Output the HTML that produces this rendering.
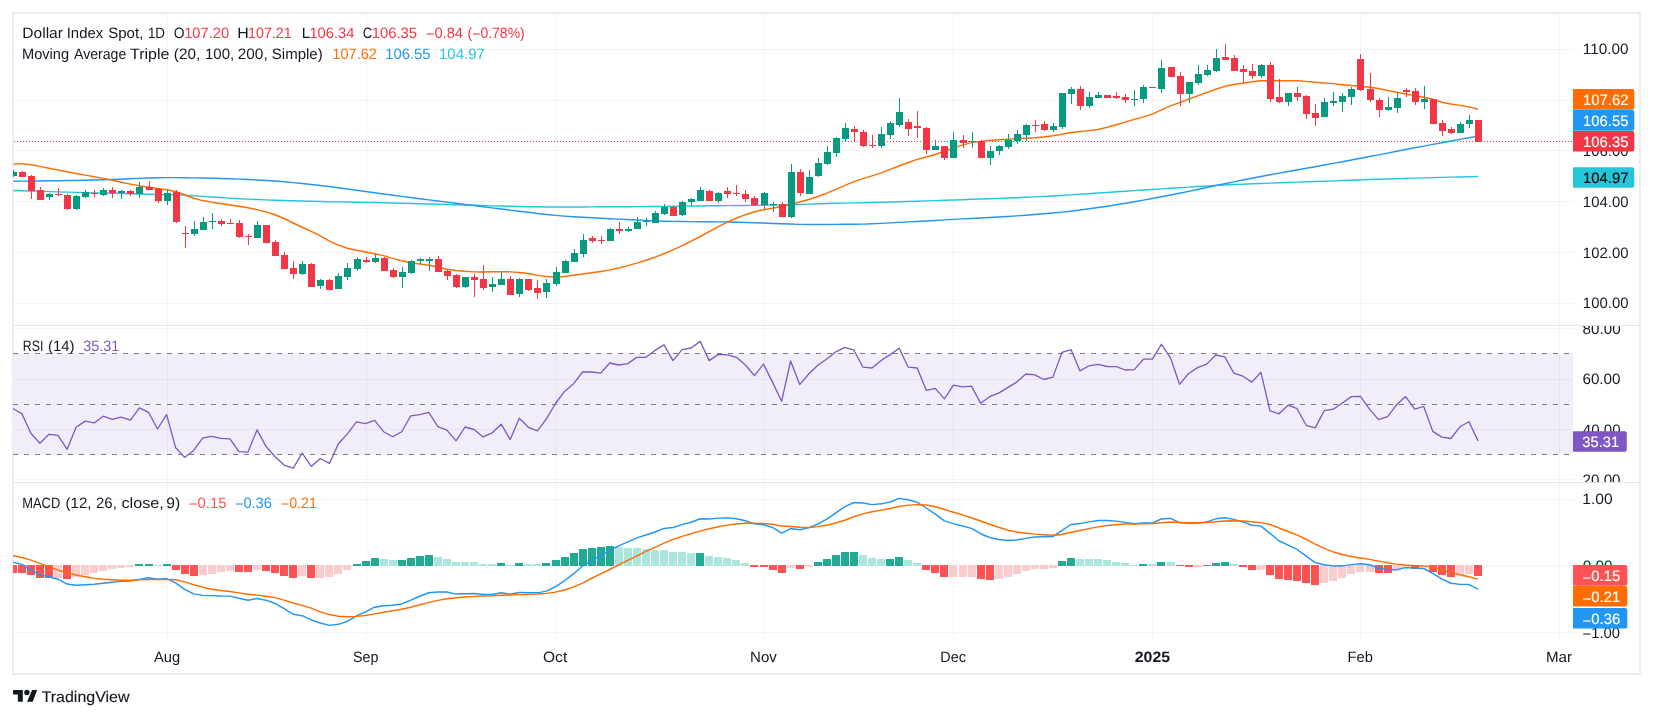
<!DOCTYPE html>
<html><head><meta charset="utf-8"><title>Dollar Index Spot</title>
<style>html,body{margin:0;padding:0;background:#fff}body{width:1653px;height:718px;position:relative;overflow:hidden;font-family:"Liberation Sans",sans-serif}</style></head>
<body>
<svg width="1653" height="718" viewBox="0 0 1653 718" style="position:absolute;left:0;top:0;font-family:'Liberation Sans',sans-serif">
<rect x="0" y="0" width="1653" height="718" fill="#fff"/>
<rect x="13" y="13" width="1627" height="661" fill="none" stroke="#ebedf3" stroke-width="2"/>
<defs><clipPath id="cp"><rect x="13" y="14" width="1560" height="625"/></clipPath><clipPath id="ax1"><rect x="1573" y="14" width="66" height="311"/></clipPath><clipPath id="ax2"><rect x="1573" y="326" width="66" height="156"/></clipPath><clipPath id="ax3"><rect x="1573" y="483" width="66" height="156"/></clipPath></defs>
<rect x="14" y="353.5" width="1559" height="101" fill="rgba(126,87,194,0.1)"/>
<path d="M14 49.5H1573 M14 100.5H1573 M14 150.5H1573 M14 201.5H1573 M14 252.5H1573 M14 303.5H1573 M14 328.5H1573 M14 379.5H1573 M14 429.5H1573 M14 479.5H1573 M14 499.5H1573 M14 565.5H1573 M14 632.5H1573" stroke="rgba(42,46,57,0.055)" stroke-width="1" fill="none" shape-rendering="crispEdges"/>
<path d="M167.5 14V639 M366.5 14V639 M556.5 14V639 M764.5 14V639 M953.5 14V639 M1152.5 14V639 M1360.5 14V639 M1559.5 14V639" stroke="rgba(42,46,57,0.055)" stroke-width="1" fill="none" shape-rendering="crispEdges"/>
<path d="M14 325.5H1639M14 482.5H1639" stroke="#e0e3eb" stroke-width="1" fill="none" shape-rendering="crispEdges"/>
<path d="M13 353.5H1573M13 404.5H1573M13 454.5H1573" stroke="#787B86" stroke-width="1" stroke-dasharray="5 6" fill="none" shape-rendering="crispEdges"/>
<g clip-path="url(#cp)">
<path d="M13.6 190.50 L21.8 190.77 L30.9 191.06 L39.9 191.34 L49.0 191.61 L58.0 191.88 L67.1 192.14 L76.1 192.39 L85.2 192.62 L94.2 192.86 L103.2 193.09 L112.3 193.33 L121.3 193.57 L130.4 193.82 L139.4 194.06 L148.5 194.28 L157.5 194.47 L166.6 194.64 L175.6 194.85 L184.6 195.24 L193.7 195.80 L202.7 196.37 L211.8 196.95 L220.8 197.56 L229.9 198.15 L238.9 198.69 L248.0 199.14 L257.0 199.53 L266.0 199.88 L275.1 200.20 L284.1 200.50 L293.2 200.77 L302.2 201.03 L311.3 201.26 L320.3 201.48 L329.4 201.69 L338.4 201.88 L347.4 202.06 L356.5 202.21 L365.5 202.38 L374.6 202.58 L383.6 202.78 L392.7 203.00 L401.7 203.22 L410.8 203.46 L419.8 203.70 L428.8 203.94 L437.9 204.19 L446.9 204.44 L456.0 204.72 L465.0 205.01 L474.1 205.31 L483.1 205.59 L492.2 205.85 L501.2 206.07 L510.2 206.27 L519.3 206.47 L528.3 206.67 L537.4 206.83 L546.4 206.95 L555.5 207.00 L564.5 206.99 L573.6 206.97 L582.6 206.93 L591.6 206.89 L600.7 206.84 L609.7 206.79 L618.8 206.74 L627.8 206.68 L636.9 206.61 L645.9 206.53 L655.0 206.45 L664.0 206.36 L673.0 206.26 L682.1 206.15 L691.1 206.04 L700.2 205.93 L709.2 205.82 L718.3 205.71 L727.3 205.61 L736.4 205.52 L745.4 205.44 L754.4 205.35 L763.5 205.24 L772.5 205.12 L781.6 204.97 L790.6 204.74 L799.7 204.44 L808.7 204.12 L817.8 203.82 L826.8 203.57 L835.8 203.34 L844.9 203.11 L853.9 202.89 L863.0 202.67 L872.0 202.43 L881.1 202.19 L890.1 201.94 L899.2 201.69 L908.2 201.43 L917.2 201.16 L926.3 200.89 L935.3 200.61 L944.4 200.31 L953.4 200.00 L962.5 199.67 L971.5 199.34 L980.6 199.01 L989.6 198.68 L998.6 198.35 L1007.7 198.01 L1016.7 197.66 L1025.8 197.29 L1034.8 196.89 L1043.9 196.47 L1052.9 196.00 L1062.0 195.47 L1071.0 194.89 L1080.0 194.29 L1089.1 193.66 L1098.1 193.03 L1107.2 192.41 L1116.2 191.80 L1125.3 191.22 L1134.3 190.63 L1143.4 190.04 L1152.4 189.45 L1161.4 188.86 L1170.5 188.27 L1179.5 187.69 L1188.6 187.12 L1197.6 186.53 L1206.7 185.94 L1215.7 185.40 L1224.8 184.94 L1233.8 184.54 L1242.8 184.17 L1251.9 183.82 L1260.9 183.48 L1270.0 183.13 L1279.0 182.80 L1288.1 182.47 L1297.1 182.15 L1306.2 181.83 L1315.2 181.51 L1324.2 181.20 L1333.3 180.88 L1342.3 180.56 L1351.4 180.24 L1360.4 179.91 L1369.5 179.58 L1378.5 179.26 L1387.6 178.95 L1396.6 178.66 L1405.6 178.38 L1414.7 178.11 L1423.7 177.86 L1432.8 177.61 L1441.8 177.37 L1450.9 177.14 L1459.9 176.92 L1469.0 176.71 L1478.0 176.51" stroke="#26C6DA" stroke-width="1.45" fill="none" stroke-linejoin="round" stroke-linecap="butt"/>
<path d="M13.6 181.20 L21.8 181.14 L30.9 181.06 L39.9 180.96 L49.0 180.84 L58.0 180.71 L67.1 180.58 L76.1 180.43 L85.2 180.25 L94.2 180.05 L103.2 179.82 L112.3 179.55 L121.3 179.17 L130.4 178.75 L139.4 178.35 L148.5 178.02 L157.5 177.76 L166.6 177.60 L175.6 177.63 L184.6 177.74 L193.7 177.89 L202.7 178.05 L211.8 178.25 L220.8 178.50 L229.9 178.79 L238.9 179.13 L248.0 179.51 L257.0 179.93 L266.0 180.41 L275.1 181.04 L284.1 181.79 L293.2 182.65 L302.2 183.57 L311.3 184.54 L320.3 185.53 L329.4 186.57 L338.4 187.74 L347.4 188.98 L356.5 190.24 L365.5 191.48 L374.6 192.70 L383.6 193.93 L392.7 195.16 L401.7 196.38 L410.8 197.58 L419.8 198.74 L428.8 199.88 L437.9 201.00 L446.9 202.12 L456.0 203.26 L465.0 204.42 L474.1 205.59 L483.1 206.76 L492.2 207.90 L501.2 209.02 L510.2 210.12 L519.3 211.20 L528.3 212.32 L537.4 213.44 L546.4 214.48 L555.5 215.38 L564.5 216.10 L573.6 216.73 L582.6 217.30 L591.6 217.81 L600.7 218.29 L609.7 218.72 L618.8 219.12 L627.8 219.51 L636.9 219.92 L645.9 220.39 L655.0 220.88 L664.0 221.21 L673.0 221.38 L682.1 221.50 L691.1 221.60 L700.2 221.70 L709.2 221.79 L718.3 221.89 L727.3 222.03 L736.4 222.23 L745.4 222.45 L754.4 222.73 L763.5 223.08 L772.5 223.44 L781.6 223.75 L790.6 224.08 L799.7 224.37 L808.7 224.50 L817.8 224.49 L826.8 224.45 L835.8 224.40 L844.9 224.32 L853.9 224.24 L863.0 224.10 L872.0 223.80 L881.1 223.38 L890.1 222.89 L899.2 222.38 L908.2 221.90 L917.2 221.43 L926.3 220.93 L935.3 220.41 L944.4 219.89 L953.4 219.39 L962.5 218.90 L971.5 218.44 L980.6 217.99 L989.6 217.52 L998.6 217.02 L1007.7 216.48 L1016.7 215.88 L1025.8 215.24 L1034.8 214.55 L1043.9 213.81 L1052.9 213.00 L1062.0 212.14 L1071.0 211.16 L1080.0 210.03 L1089.1 208.80 L1098.1 207.51 L1107.2 206.17 L1116.2 204.76 L1125.3 203.27 L1134.3 201.73 L1143.4 200.14 L1152.4 198.51 L1161.4 196.83 L1170.5 195.06 L1179.5 193.23 L1188.6 191.38 L1197.6 189.48 L1206.7 187.52 L1215.7 185.57 L1224.8 183.70 L1233.8 181.85 L1242.8 180.03 L1251.9 178.24 L1260.9 176.49 L1270.0 174.80 L1279.0 173.15 L1288.1 171.54 L1297.1 169.94 L1306.2 168.33 L1315.2 166.70 L1324.2 165.04 L1333.3 163.36 L1342.3 161.68 L1351.4 159.98 L1360.4 158.28 L1369.5 156.56 L1378.5 154.84 L1387.6 153.09 L1396.6 151.33 L1405.6 149.56 L1414.7 147.81 L1423.7 146.09 L1432.8 144.38 L1441.8 142.70 L1450.9 141.02 L1459.9 139.37 L1469.0 137.72 L1478.0 136.09" stroke="#2196F3" stroke-width="1.45" fill="none" stroke-linejoin="round" stroke-linecap="butt"/>
<path d="M13.6 164.30 L21.8 163.61 L30.9 164.79 L39.9 166.38 L49.0 168.24 L58.0 170.00 L67.1 171.73 L76.1 173.45 L85.2 175.12 L94.2 176.73 L103.2 178.38 L112.3 180.19 L121.3 182.20 L130.4 184.16 L139.4 185.81 L148.5 187.23 L157.5 188.56 L166.6 189.82 L175.6 191.44 L184.6 194.71 L193.7 198.25 L202.7 200.58 L211.8 202.16 L220.8 203.50 L229.9 204.92 L238.9 206.33 L248.0 207.80 L257.0 209.59 L266.0 211.90 L275.1 214.77 L284.1 218.49 L293.2 223.00 L302.2 227.26 L311.3 231.36 L320.3 235.82 L329.4 241.05 L338.4 245.09 L347.4 248.21 L356.5 250.29 L365.5 251.97 L374.6 253.67 L383.6 255.64 L392.7 258.35 L401.7 260.77 L410.8 262.67 L419.8 263.97 L428.8 265.21 L437.9 267.03 L446.9 269.26 L456.0 270.53 L465.0 271.34 L474.1 271.87 L483.1 271.98 L492.2 271.77 L501.2 271.60 L510.2 271.85 L519.3 272.46 L528.3 273.54 L537.4 275.35 L546.4 276.50 L555.5 277.09 L564.5 276.43 L573.6 275.20 L582.6 274.03 L591.6 272.76 L600.7 271.44 L609.7 269.90 L618.8 267.94 L627.8 265.63 L636.9 263.10 L645.9 260.29 L655.0 257.19 L664.0 253.72 L673.0 249.81 L682.1 245.64 L691.1 241.23 L700.2 236.50 L709.2 231.69 L718.3 226.66 L727.3 222.08 L736.4 218.21 L745.4 214.69 L754.4 211.71 L763.5 209.82 L772.5 208.22 L781.6 206.57 L790.6 204.42 L799.7 202.02 L808.7 199.44 L817.8 196.55 L826.8 193.17 L835.8 189.40 L844.9 185.42 L853.9 181.58 L863.0 178.61 L872.0 175.91 L881.1 172.85 L890.1 169.43 L899.2 166.00 L908.2 162.53 L917.2 159.41 L926.3 156.95 L935.3 154.45 L944.4 151.28 L953.4 148.00 L962.5 145.11 L971.5 142.64 L980.6 141.35 L989.6 140.46 L998.6 139.78 L1007.7 139.17 L1016.7 138.65 L1025.8 138.23 L1034.8 137.73 L1043.9 136.92 L1052.9 135.69 L1062.0 134.21 L1071.0 132.53 L1080.0 131.50 L1089.1 130.64 L1098.1 129.42 L1107.2 127.28 L1116.2 124.74 L1125.3 122.10 L1134.3 119.35 L1143.4 116.85 L1152.4 114.11 L1161.4 109.83 L1170.5 105.81 L1179.5 102.57 L1188.6 99.28 L1197.6 95.90 L1206.7 92.57 L1215.7 89.30 L1224.8 86.33 L1233.8 84.55 L1242.8 83.28 L1251.9 81.67 L1260.9 80.70 L1270.0 80.70 L1279.0 80.70 L1288.1 80.70 L1297.1 80.71 L1306.2 81.35 L1315.2 82.28 L1324.2 82.94 L1333.3 83.64 L1342.3 84.70 L1351.4 85.57 L1360.4 86.24 L1369.5 87.18 L1378.5 88.57 L1387.6 90.46 L1396.6 92.28 L1405.6 94.07 L1414.7 95.63 L1423.7 97.23 L1432.8 99.19 L1441.8 102.20 L1450.9 103.96 L1459.9 105.36 L1469.0 106.90 L1478.0 109.25" stroke="#FF6D00" stroke-width="1.45" fill="none" stroke-linejoin="round" stroke-linecap="butt"/>
<path d="M13 170h1V177h-1Z M10 172h7V176h-7Z M49 193h1V200h-1Z M46 194h7V197h-7Z M76 195h1V210h-1Z M73 196h7V209h-7Z M85 190h1V198h-1Z M82 192h7V197h-7Z M103 188h1V196h-1Z M100 190h7V195h-7Z M121 190h1V199h-1Z M118 191h7V193h-7Z M139 182h1V198h-1Z M136 187h7V194h-7Z M167 190h1V205h-1Z M164 193h7V201h-7Z M194 221h1V236h-1Z M191 229h7V234h-7Z M203 217h1V230h-1Z M200 222h7V230h-7Z M212 213h1V229h-1Z M209 221h7V222h-7Z M257 221h1V238h-1Z M254 225h7V238h-7Z M302 261h1V275h-1Z M299 264h7V274h-7Z M320 279h1V289h-1Z M317 280h7V286h-7Z M338 273h1V289h-1Z M335 276h7V289h-7Z M347 263h1V280h-1Z M344 268h7V277h-7Z M357 257h1V271h-1Z M354 259h7V269h-7Z M375 254h1V263h-1Z M372 258h7V262h-7Z M402 267h1V288h-1Z M399 272h7V277h-7Z M411 260h1V274h-1Z M408 261h7V273h-7Z M420 258h1V264h-1Z M417 259h7V261h-7Z M429 257h1V271h-1Z M426 259h7V261h-7Z M465 277h1V288h-1Z M462 277h7V287h-7Z M492 277h1V292h-1Z M489 284h7V287h-7Z M501 272h1V285h-1Z M498 279h7V285h-7Z M519 278h1V297h-1Z M516 279h7V294h-7Z M546 279h1V298h-1Z M543 283h7V292h-7Z M556 267h1V286h-1Z M553 272h7V284h-7Z M565 260h1V273h-1Z M562 261h7V273h-7Z M574 249h1V262h-1Z M571 253h7V262h-7Z M583 234h1V257h-1Z M580 240h7V254h-7Z M610 228h1V241h-1Z M607 229h7V241h-7Z M628 227h1V232h-1Z M625 229h7V231h-7Z M637 217h1V229h-1Z M634 222h7V229h-7Z M646 218h1V226h-1Z M643 221h7V222h-7Z M655 211h1V223h-1Z M652 213h7V223h-7Z M664 204h1V215h-1Z M661 207h7V214h-7Z M682 201h1V216h-1Z M679 202h7V215h-7Z M691 198h1V206h-1Z M688 199h7V202h-7Z M700 187h1V201h-1Z M697 190h7V201h-7Z M718 192h1V203h-1Z M715 193h7V201h-7Z M764 192h1V209h-1Z M761 193h7V205h-7Z M773 202h1V212h-1Z M770 204h7V205h-7Z M791 164h1V218h-1Z M788 172h7V217h-7Z M809 170h1V194h-1Z M806 177h7V194h-7Z M818 158h1V177h-1Z M815 163h7V176h-7Z M827 146h1V165h-1Z M824 152h7V164h-7Z M836 137h1V157h-1Z M833 138h7V153h-7Z M845 123h1V141h-1Z M842 128h7V139h-7Z M881 127h1V148h-1Z M878 134h7V146h-7Z M890 121h1V139h-1Z M887 123h7V135h-7Z M899 98h1V127h-1Z M896 112h7V125h-7Z M935 140h1V150h-1Z M932 146h7V150h-7Z M953 132h1V158h-1Z M950 140h7V158h-7Z M972 132h1V148h-1Z M969 141h7V142h-7Z M990 146h1V165h-1Z M987 151h7V158h-7Z M999 145h1V155h-1Z M996 146h7V151h-7Z M1008 134h1V149h-1Z M1005 140h7V147h-7Z M1017 130h1V144h-1Z M1014 134h7V141h-7Z M1026 124h1V141h-1Z M1023 125h7V135h-7Z M1053 123h1V132h-1Z M1050 126h7V130h-7Z M1062 93h1V129h-1Z M1059 93h7V127h-7Z M1071 87h1V104h-1Z M1068 89h7V94h-7Z M1089 92h1V108h-1Z M1086 97h7V106h-7Z M1098 92h1V98h-1Z M1095 95h7V98h-7Z M1134 90h1V106h-1Z M1131 99h7V100h-7Z M1143 85h1V103h-1Z M1140 87h7V99h-7Z M1161 60h1V93h-1Z M1158 68h7V89h-7Z M1189 82h1V103h-1Z M1186 82h7V94h-7Z M1198 65h1V85h-1Z M1195 74h7V83h-7Z M1207 65h1V76h-1Z M1204 70h7V75h-7Z M1216 49h1V72h-1Z M1213 58h7V71h-7Z M1261 64h1V78h-1Z M1258 65h7V76h-7Z M1288 93h1V106h-1Z M1285 93h7V102h-7Z M1324 98h1V117h-1Z M1321 102h7V117h-7Z M1333 92h1V106h-1Z M1330 101h7V103h-7Z M1342 93h1V112h-1Z M1339 96h7V102h-7Z M1351 87h1V105h-1Z M1348 89h7V97h-7Z M1388 97h1V111h-1Z M1385 107h7V110h-7Z M1397 92h1V113h-1Z M1394 98h7V108h-7Z M1424 86h1V109h-1Z M1421 99h7V102h-7Z M1460 122h1V133h-1Z M1457 124h7V133h-7Z M1469 115h1V128h-1Z M1466 120h7V124h-7Z" fill="#089981" shape-rendering="crispEdges"/>
<path d="M22 171h1V177h-1Z M19 172h7V177h-7Z M31 175h1V199h-1Z M28 176h7V191h-7Z M40 187h1V200h-1Z M37 190h7V200h-7Z M58 188h1V196h-1Z M55 194h7V195h-7Z M67 194h1V210h-1Z M64 195h7V209h-7Z M94 190h1V197h-1Z M91 193h7V194h-7Z M112 187h1V198h-1Z M109 190h7V193h-7Z M130 190h1V196h-1Z M127 191h7V194h-7Z M149 181h1V190h-1Z M146 187h7V190h-7Z M158 188h1V203h-1Z M155 189h7V201h-7Z M176 190h1V223h-1Z M173 192h7V222h-7Z M185 226h1V248h-1Z M182 233h7V234h-7Z M221 219h1V226h-1Z M218 221h7V224h-7Z M230 219h1V224h-1Z M227 223h7V224h-7Z M239 220h1V238h-1Z M236 223h7V237h-7Z M248 234h1V245h-1Z M245 236h7V237h-7Z M266 225h1V243h-1Z M263 225h7V243h-7Z M275 240h1V256h-1Z M272 242h7V256h-7Z M284 252h1V269h-1Z M281 255h7V269h-7Z M293 261h1V279h-1Z M290 268h7V274h-7Z M311 263h1V287h-1Z M308 264h7V287h-7Z M329 279h1V290h-1Z M326 280h7V290h-7Z M366 257h1V263h-1Z M363 260h7V262h-7Z M384 257h1V271h-1Z M381 258h7V271h-7Z M393 268h1V278h-1Z M390 270h7V277h-7Z M438 256h1V272h-1Z M435 259h7V272h-7Z M447 270h1V280h-1Z M444 271h7V276h-7Z M456 274h1V288h-1Z M453 275h7V287h-7Z M474 274h1V297h-1Z M471 277h7V280h-7Z M483 265h1V290h-1Z M480 279h7V288h-7Z M510 276h1V295h-1Z M507 279h7V295h-7Z M528 279h1V291h-1Z M525 279h7V290h-7Z M537 280h1V299h-1Z M534 288h7V293h-7Z M592 236h1V243h-1Z M589 238h7V241h-7Z M601 236h1V244h-1Z M598 240h7V241h-7Z M619 222h1V234h-1Z M616 229h7V231h-7Z M673 206h1V216h-1Z M670 207h7V216h-7Z M709 190h1V201h-1Z M706 191h7V201h-7Z M727 187h1V198h-1Z M724 191h7V194h-7Z M736 185h1V196h-1Z M733 193h7V194h-7Z M745 190h1V202h-1Z M742 194h7V199h-7Z M754 196h1V206h-1Z M751 198h7V205h-7Z M782 202h1V217h-1Z M779 204h7V217h-7Z M800 169h1V196h-1Z M797 172h7V193h-7Z M854 126h1V142h-1Z M851 129h7V132h-7Z M863 130h1V147h-1Z M860 132h7V146h-7Z M872 135h1V148h-1Z M869 145h7V146h-7Z M908 119h1V136h-1Z M905 122h7V129h-7Z M917 111h1V138h-1Z M914 126h7V128h-7Z M926 127h1V154h-1Z M923 128h7V150h-7Z M944 146h1V160h-1Z M941 146h7V158h-7Z M963 135h1V148h-1Z M960 140h7V143h-7Z M981 140h1V158h-1Z M978 141h7V158h-7Z M1035 120h1V132h-1Z M1032 125h7V126h-7Z M1044 121h1V131h-1Z M1041 124h7V130h-7Z M1080 86h1V110h-1Z M1077 89h7V106h-7Z M1107 95h1V98h-1Z M1104 95h7V98h-7Z M1116 92h1V99h-1Z M1113 96h7V98h-7Z M1125 94h1V103h-1Z M1122 97h7V100h-7Z M1152 87h1V88h-1Z M1149 87h7V88h-7Z M1171 67h1V77h-1Z M1168 67h7V77h-7Z M1180 72h1V106h-1Z M1177 76h7V94h-7Z M1225 44h1V60h-1Z M1222 57h7V60h-7Z M1234 55h1V71h-1Z M1231 58h7V71h-7Z M1243 65h1V83h-1Z M1240 69h7V72h-7Z M1252 64h1V79h-1Z M1249 71h7V76h-7Z M1270 62h1V102h-1Z M1267 65h7V99h-7Z M1279 79h1V103h-1Z M1276 97h7V102h-7Z M1297 87h1V101h-1Z M1294 93h7V97h-7Z M1306 95h1V119h-1Z M1303 96h7V114h-7Z M1315 104h1V126h-1Z M1312 113h7V118h-7Z M1360 54h1V91h-1Z M1357 59h7V90h-7Z M1370 73h1V102h-1Z M1367 89h7V100h-7Z M1379 98h1V117h-1Z M1376 100h7V110h-7Z M1406 88h1V97h-1Z M1403 90h7V92h-7Z M1415 88h1V105h-1Z M1412 91h7V102h-7Z M1433 99h1V124h-1Z M1430 99h7V124h-7Z M1442 120h1V136h-1Z M1439 123h7V131h-7Z M1451 127h1V134h-1Z M1448 129h7V133h-7Z M1478 120h1V142h-1Z M1475 120h7V142h-7Z" fill="#F23645" shape-rendering="crispEdges"/>
<path d="M14 141.5H1573" stroke="#F23645" stroke-width="1" stroke-dasharray="1 2" fill="none" shape-rendering="crispEdges"/>
<path d="M12.8 408.50 L21.8 413.60 L30.9 433.20 L39.9 443.30 L49.0 434.30 L58.0 435.40 L67.1 449.30 L76.1 427.30 L85.2 421.10 L94.2 422.90 L103.2 416.20 L112.3 419.30 L121.3 417.10 L130.4 420.20 L139.4 407.90 L148.5 412.30 L157.5 429.00 L166.6 414.70 L175.6 447.70 L184.6 457.40 L193.7 450.40 L202.7 437.80 L211.8 436.30 L220.8 438.30 L229.9 438.90 L238.9 451.70 L248.0 452.10 L257.0 429.90 L266.0 446.40 L275.1 456.80 L284.1 465.10 L293.2 468.20 L302.2 453.20 L311.3 466.40 L320.3 458.50 L329.4 463.40 L338.4 443.80 L347.4 433.90 L356.5 421.80 L365.5 423.70 L374.6 420.40 L383.6 431.70 L392.7 436.70 L401.7 431.70 L410.8 415.80 L419.8 414.70 L428.8 412.30 L437.9 426.60 L446.9 430.10 L456.0 440.90 L465.0 427.00 L474.1 429.50 L483.1 436.90 L492.2 432.80 L501.2 424.20 L510.2 439.60 L519.3 418.20 L528.3 427.30 L537.4 430.80 L546.4 418.90 L555.5 403.50 L564.5 391.40 L573.6 383.70 L582.6 372.00 L591.6 372.00 L600.7 373.10 L609.7 363.00 L618.8 365.00 L627.8 363.60 L636.9 357.30 L645.9 357.30 L655.0 350.40 L664.0 344.90 L673.0 360.60 L682.1 349.60 L691.1 348.00 L700.2 341.40 L709.2 360.60 L718.3 354.40 L727.3 354.80 L736.4 357.30 L745.4 365.00 L754.4 375.70 L763.5 364.10 L772.5 382.10 L781.6 401.30 L790.6 361.00 L799.7 384.60 L808.7 374.00 L817.8 365.20 L826.8 359.00 L835.8 351.80 L844.9 347.40 L853.9 350.20 L863.0 367.20 L872.0 368.00 L881.1 360.50 L890.1 354.60 L899.2 348.20 L908.2 367.20 L917.2 368.00 L926.3 390.30 L935.3 388.30 L944.4 398.90 L953.4 385.20 L962.5 386.80 L971.5 386.10 L980.6 403.30 L989.6 396.70 L998.6 393.10 L1007.7 387.60 L1016.7 382.10 L1025.8 374.00 L1034.8 374.90 L1043.9 379.50 L1052.9 377.10 L1062.0 352.40 L1071.0 349.60 L1080.0 370.90 L1089.1 365.80 L1098.1 364.30 L1107.2 366.50 L1116.2 366.70 L1125.3 370.00 L1134.3 369.60 L1143.4 359.20 L1152.4 359.20 L1161.4 344.30 L1170.5 357.80 L1179.5 384.30 L1188.6 373.50 L1197.6 367.60 L1206.7 364.10 L1215.7 355.00 L1224.8 356.80 L1233.8 373.10 L1242.8 376.20 L1251.9 382.10 L1260.9 372.20 L1270.0 410.90 L1279.0 413.80 L1288.1 405.20 L1297.1 408.70 L1306.2 425.30 L1315.2 427.90 L1324.2 410.70 L1333.3 409.20 L1342.3 403.00 L1351.4 396.60 L1360.4 396.40 L1369.5 409.20 L1378.5 419.70 L1387.6 416.70 L1396.6 404.80 L1405.6 396.60 L1414.7 409.20 L1423.7 406.50 L1432.8 431.40 L1441.8 437.10 L1450.9 438.50 L1459.9 426.80 L1469.0 421.70 L1478.0 440.90" stroke="#7E57C2" stroke-width="1.3" fill="none" stroke-linejoin="round"/>
<path d="M135 564h8V566h-8Z M145 564h8V566h-8Z M163 564h8V566h-8Z M353 564h8V566h-8Z M362 561h8V566h-8Z M371 558h8V566h-8Z M398 560h8V566h-8Z M407 558h8V566h-8Z M416 556h8V566h-8Z M425 555h8V566h-8Z M497 563h8V566h-8Z M515 563h8V566h-8Z M542 563h8V566h-8Z M552 560h8V566h-8Z M561 557h8V566h-8Z M570 553h8V566h-8Z M579 549h8V566h-8Z M588 548h8V566h-8Z M597 547h8V566h-8Z M606 546h8V566h-8Z M696 553h8V566h-8Z M814 562h8V566h-8Z M823 559h8V566h-8Z M832 555h8V566h-8Z M841 552h8V566h-8Z M850 552h8V566h-8Z M886 559h8V566h-8Z M895 557h8V566h-8Z M1058 561h8V566h-8Z M1067 558h8V566h-8Z M1139 564h8V566h-8Z M1157 562h8V566h-8Z M1203 565h8V566h-8Z M1212 563h8V566h-8Z M1221 562h8V566h-8Z" fill="#22AB94" shape-rendering="crispEdges"/>
<path d="M154 565h8V566h-8Z M380 559h8V566h-8Z M389 560h8V566h-8Z M434 557h8V566h-8Z M443 559h8V566h-8Z M452 562h8V566h-8Z M461 562h8V566h-8Z M470 562h8V566h-8Z M479 564h8V566h-8Z M488 564h8V566h-8Z M506 565h8V566h-8Z M524 564h8V566h-8Z M533 564h8V566h-8Z M615 547h8V566h-8Z M624 548h8V566h-8Z M633 548h8V566h-8Z M642 549h8V566h-8Z M651 550h8V566h-8Z M660 550h8V566h-8Z M669 552h8V566h-8Z M678 552h8V566h-8Z M687 553h8V566h-8Z M705 556h8V566h-8Z M714 557h8V566h-8Z M723 558h8V566h-8Z M732 560h8V566h-8Z M741 563h8V566h-8Z M859 555h8V566h-8Z M868 558h8V566h-8Z M877 559h8V566h-8Z M904 560h8V566h-8Z M913 563h8V566h-8Z M1076 559h8V566h-8Z M1085 559h8V566h-8Z M1094 559h8V566h-8Z M1103 560h8V566h-8Z M1112 562h8V566h-8Z M1121 563h8V566h-8Z M1130 565h8V566h-8Z M1148 564h8V566h-8Z M1167 562h8V566h-8Z M1230 564h8V566h-8Z" fill="#ACE5DC" shape-rendering="crispEdges"/>
<path d="M54 565h8V578h-8Z M72 565h8V577h-8Z M81 565h8V575h-8Z M90 565h8V573h-8Z M99 565h8V571h-8Z M108 565h8V569h-8Z M117 565h8V568h-8Z M126 565h8V567h-8Z M199 565h8V575h-8Z M208 565h8V574h-8Z M217 565h8V572h-8Z M226 565h8V571h-8Z M253 565h8V570h-8Z M298 565h8V576h-8Z M316 565h8V578h-8Z M325 565h8V577h-8Z M334 565h8V574h-8Z M343 565h8V570h-8Z M787 565h8V568h-8Z M805 565h8V567h-8Z M949 565h8V577h-8Z M959 565h8V577h-8Z M968 565h8V577h-8Z M995 565h8V579h-8Z M1004 565h8V577h-8Z M1013 565h8V574h-8Z M1022 565h8V571h-8Z M1031 565h8V569h-8Z M1040 565h8V569h-8Z M1049 565h8V568h-8Z M1194 565h8V567h-8Z M1257 565h8V570h-8Z M1320 565h8V583h-8Z M1329 565h8V581h-8Z M1338 565h8V578h-8Z M1347 565h8V574h-8Z M1356 565h8V572h-8Z M1366 565h8V572h-8Z M1393 565h8V571h-8Z M1402 565h8V568h-8Z M1420 565h8V567h-8Z M1456 565h8V575h-8Z M1465 565h8V574h-8Z" fill="#FCCBCD" shape-rendering="crispEdges"/>
<path d="M9 565h8V573h-8Z M18 565h8V573h-8Z M27 565h8V575h-8Z M36 565h8V578h-8Z M45 565h8V578h-8Z M63 565h8V579h-8Z M172 565h8V570h-8Z M181 565h8V574h-8Z M190 565h8V576h-8Z M235 565h8V572h-8Z M244 565h8V572h-8Z M262 565h8V571h-8Z M271 565h8V573h-8Z M280 565h8V576h-8Z M289 565h8V578h-8Z M307 565h8V578h-8Z M750 565h8V567h-8Z M760 565h8V567h-8Z M769 565h8V570h-8Z M778 565h8V573h-8Z M796 565h8V569h-8Z M922 565h8V570h-8Z M931 565h8V573h-8Z M940 565h8V577h-8Z M977 565h8V579h-8Z M986 565h8V580h-8Z M1176 565h8V566h-8Z M1185 565h8V567h-8Z M1239 565h8V567h-8Z M1248 565h8V570h-8Z M1266 565h8V575h-8Z M1275 565h8V579h-8Z M1284 565h8V580h-8Z M1293 565h8V581h-8Z M1302 565h8V583h-8Z M1311 565h8V585h-8Z M1375 565h8V573h-8Z M1384 565h8V573h-8Z M1411 565h8V569h-8Z M1429 565h8V572h-8Z M1438 565h8V575h-8Z M1447 565h8V577h-8Z M1474 565h8V576h-8Z" fill="#FF5252" shape-rendering="crispEdges"/>
<path d="M12.8 562.11 L21.8 564.37 L30.9 569.77 L39.9 574.87 L49.0 576.74 L58.0 579.19 L67.1 584.08 L76.1 585.22 L85.2 584.66 L94.2 584.22 L103.2 583.19 L112.3 582.30 L121.3 581.40 L130.4 580.97 L139.4 579.36 L148.5 577.67 L157.5 579.10 L166.6 578.53 L175.6 582.81 L184.6 589.40 L193.7 593.88 L202.7 595.39 L211.8 595.64 L220.8 596.09 L229.9 596.10 L238.9 598.24 L248.0 600.19 L257.0 598.55 L266.0 600.17 L275.1 603.48 L284.1 608.56 L293.2 614.28 L302.2 615.68 L311.3 619.81 L320.3 622.99 L329.4 625.39 L338.4 624.32 L347.4 621.28 L356.5 615.92 L365.5 611.93 L374.6 607.21 L383.6 605.73 L392.7 605.28 L401.7 603.91 L410.8 600.18 L419.8 596.23 L428.8 592.76 L437.9 591.98 L446.9 591.97 L456.0 594.09 L465.0 593.74 L474.1 593.50 L483.1 594.56 L492.2 594.58 L501.2 592.67 L510.2 594.32 L519.3 592.45 L528.3 592.60 L537.4 592.84 L546.4 591.13 L555.5 586.56 L564.5 580.78 L573.6 573.69 L582.6 565.99 L591.6 560.89 L600.7 555.47 L609.7 550.21 L618.8 545.81 L627.8 541.88 L636.9 537.92 L645.9 535.06 L655.0 532.04 L664.0 528.45 L673.0 527.54 L682.1 524.62 L691.1 522.22 L700.2 518.80 L709.2 518.97 L718.3 518.14 L727.3 517.89 L736.4 518.67 L745.4 520.75 L754.4 523.86 L763.5 524.76 L772.5 527.42 L781.6 533.04 L790.6 528.59 L799.7 529.82 L808.7 527.85 L817.8 524.04 L826.8 519.11 L835.8 512.85 L844.9 506.68 L853.9 502.49 L863.0 503.06 L872.0 504.63 L881.1 503.84 L890.1 501.96 L899.2 498.36 L908.2 499.75 L917.2 502.27 L926.3 507.99 L935.3 514.07 L944.4 520.93 L953.4 523.63 L962.5 526.02 L971.5 528.37 L980.6 533.73 L989.6 537.53 L998.6 539.55 L1007.7 540.48 L1016.7 540.08 L1025.8 538.39 L1034.8 537.03 L1043.9 536.80 L1052.9 536.59 L1062.0 530.34 L1071.0 524.49 L1080.0 523.59 L1089.1 521.87 L1098.1 520.50 L1107.2 520.50 L1116.2 521.11 L1125.3 522.40 L1134.3 523.75 L1143.4 522.89 L1152.4 522.89 L1161.4 519.03 L1170.5 518.33 L1179.5 522.62 L1188.6 523.32 L1197.6 523.12 L1206.7 521.86 L1215.7 518.82 L1224.8 517.68 L1233.8 519.34 L1242.8 521.93 L1251.9 525.23 L1260.9 526.10 L1270.0 533.32 L1279.0 540.76 L1288.1 545.15 L1297.1 549.47 L1306.2 556.17 L1315.2 562.56 L1324.2 564.78 L1333.3 565.90 L1342.3 565.90 L1351.4 564.62 L1360.4 563.73 L1369.5 564.78 L1378.5 568.03 L1387.6 569.81 L1396.6 569.60 L1405.6 567.64 L1414.7 568.07 L1423.7 568.50 L1432.8 573.42 L1441.8 578.86 L1450.9 583.26 L1459.9 584.36 L1469.0 584.58 L1478.0 589.07" stroke="#2196F3" stroke-width="1.45" fill="none" stroke-linejoin="round"/>
<path d="M12.8 555.45 L21.8 557.57 L30.9 560.11 L39.9 563.32 L49.0 566.57 L58.0 570.08 L67.1 572.78 L76.1 575.00 L85.2 576.79 L94.2 578.36 L103.2 579.30 L112.3 579.76 L121.3 580.23 L130.4 580.24 L139.4 579.85 L148.5 579.59 L157.5 579.59 L166.6 579.38 L175.6 579.73 L184.6 581.89 L193.7 584.72 L202.7 587.17 L211.8 589.18 L220.8 590.55 L229.9 591.42 L238.9 592.90 L248.0 594.24 L257.0 595.13 L266.0 596.18 L275.1 597.64 L284.1 600.15 L293.2 602.99 L302.2 605.40 L311.3 608.16 L320.3 611.84 L329.4 614.58 L338.4 616.22 L347.4 616.73 L356.5 616.36 L365.5 615.55 L374.6 613.87 L383.6 612.33 L392.7 610.80 L401.7 609.30 L410.8 607.18 L419.8 604.80 L428.8 602.39 L437.9 600.39 L446.9 598.83 L456.0 597.70 L465.0 597.03 L474.1 596.37 L483.1 595.91 L492.2 595.69 L501.2 595.26 L510.2 595.04 L519.3 594.62 L528.3 594.17 L537.4 593.95 L546.4 593.35 L555.5 592.11 L564.5 590.02 L573.6 586.83 L582.6 583.19 L591.6 578.24 L600.7 573.86 L609.7 569.52 L618.8 564.96 L627.8 560.40 L636.9 555.82 L645.9 551.46 L655.0 547.32 L664.0 543.17 L673.0 539.44 L682.1 536.35 L691.1 533.72 L700.2 531.11 L709.2 528.69 L718.3 526.71 L727.3 525.15 L736.4 524.03 L745.4 523.33 L754.4 523.32 L763.5 523.52 L772.5 524.33 L781.6 526.09 L790.6 526.55 L799.7 527.21 L808.7 527.45 L817.8 526.65 L826.8 525.17 L835.8 523.04 L844.9 520.26 L853.9 516.78 L863.0 513.91 L872.0 511.70 L881.1 510.16 L890.1 508.44 L899.2 506.47 L908.2 505.11 L917.2 504.64 L926.3 505.03 L935.3 506.69 L944.4 509.48 L953.4 512.31 L962.5 514.92 L971.5 517.73 L980.6 520.98 L989.6 524.25 L998.6 527.30 L1007.7 530.17 L1016.7 531.94 L1025.8 533.27 L1034.8 534.15 L1043.9 534.81 L1052.9 535.27 L1062.0 534.46 L1071.0 532.32 L1080.0 530.57 L1089.1 528.62 L1098.1 526.86 L1107.2 525.54 L1116.2 524.66 L1125.3 523.98 L1134.3 523.97 L1143.4 523.77 L1152.4 523.55 L1161.4 522.70 L1170.5 522.02 L1179.5 522.44 L1188.6 522.67 L1197.6 522.67 L1206.7 522.46 L1215.7 521.83 L1224.8 520.94 L1233.8 520.72 L1242.8 520.92 L1251.9 521.77 L1260.9 522.64 L1270.0 524.55 L1279.0 528.00 L1288.1 531.48 L1297.1 535.17 L1306.2 539.28 L1315.2 544.06 L1324.2 548.43 L1333.3 551.93 L1342.3 554.55 L1351.4 556.52 L1360.4 558.05 L1369.5 559.35 L1378.5 561.09 L1387.6 562.83 L1396.6 564.15 L1405.6 565.02 L1414.7 565.68 L1423.7 566.11 L1432.8 567.40 L1441.8 569.78 L1450.9 572.38 L1459.9 574.78 L1469.0 576.74 L1478.0 579.12" stroke="#FF6D00" stroke-width="1.45" fill="none" stroke-linejoin="round"/>
</g>
<g style="opacity:0.999" stroke-width="0" text-rendering="geometricPrecision">
<text x="22.32" y="37.80" font-size="15" fill="#131722" textLength="40.64" lengthAdjust="spacingAndGlyphs">Dollar</text>
<text x="66.73" y="37.80" font-size="15" fill="#131722" textLength="36.44" lengthAdjust="spacingAndGlyphs">Index</text>
<text x="108.21" y="37.80" font-size="15" fill="#131722" textLength="35.15" lengthAdjust="spacingAndGlyphs">Spot,</text>
<text x="147.88" y="37.80" font-size="15" fill="#131722" textLength="17.17" lengthAdjust="spacingAndGlyphs">1D</text>
<text x="173.65" y="37.80" font-size="15" fill="#131722" textLength="10.82" lengthAdjust="spacingAndGlyphs">O</text>
<text x="184.18" y="37.80" font-size="15" fill="#F23645" textLength="44.90" lengthAdjust="spacingAndGlyphs">107.20</text>
<text x="237.39" y="37.80" font-size="15" fill="#131722" textLength="11.50" lengthAdjust="spacingAndGlyphs">H</text>
<text x="248.12" y="37.80" font-size="15" fill="#F23645" textLength="43.59" lengthAdjust="spacingAndGlyphs">107.21</text>
<text x="301.65" y="37.80" font-size="15" fill="#131722" textLength="8.45" lengthAdjust="spacingAndGlyphs">L</text>
<text x="309.38" y="37.80" font-size="15" fill="#F23645" textLength="45.06" lengthAdjust="spacingAndGlyphs">106.34</text>
<text x="362.63" y="37.80" font-size="15" fill="#131722" textLength="9.47" lengthAdjust="spacingAndGlyphs">C</text>
<text x="371.67" y="37.80" font-size="15" fill="#F23645" textLength="45.36" lengthAdjust="spacingAndGlyphs">106.35</text>
<text x="425.78" y="37.80" font-size="15" fill="#F23645" textLength="37.25" lengthAdjust="spacingAndGlyphs"><tspan dy="1.6">−</tspan><tspan dy="-1.6">0.84</tspan></text>
<text x="467.53" y="37.80" font-size="15" fill="#F23645" textLength="57.24" lengthAdjust="spacingAndGlyphs">(<tspan dy="1.6">−</tspan><tspan dy="-1.6">0.78%)</tspan></text>
<text x="22.00" y="58.50" font-size="15" fill="#131722" textLength="47.02" lengthAdjust="spacingAndGlyphs">Moving</text>
<text x="73.97" y="58.50" font-size="15" fill="#131722" textLength="52.36" lengthAdjust="spacingAndGlyphs">Average</text>
<text x="129.95" y="58.50" font-size="15" fill="#131722" textLength="39.57" lengthAdjust="spacingAndGlyphs">Triple</text>
<text x="173.85" y="58.50" font-size="15" fill="#131722" textLength="26.43" lengthAdjust="spacingAndGlyphs">(20,</text>
<text x="204.96" y="58.50" font-size="15" fill="#131722" textLength="29.30" lengthAdjust="spacingAndGlyphs">100,</text>
<text x="237.73" y="58.50" font-size="15" fill="#131722" textLength="29.96" lengthAdjust="spacingAndGlyphs">200,</text>
<text x="271.81" y="58.50" font-size="15" fill="#131722" textLength="50.92" lengthAdjust="spacingAndGlyphs">Simple)</text>
<text x="332.29" y="58.50" font-size="15" fill="#FF6D00" textLength="44.65" lengthAdjust="spacingAndGlyphs">107.62</text>
<text x="385.27" y="58.50" font-size="15" fill="#2196F3" textLength="45.36" lengthAdjust="spacingAndGlyphs">106.55</text>
<text x="438.96" y="58.50" font-size="15" fill="#26C6DA" textLength="45.90" lengthAdjust="spacingAndGlyphs">104.97</text>
<text x="22.84" y="350.60" font-size="15" fill="#131722" textLength="20.60" lengthAdjust="spacingAndGlyphs">RSI</text>
<text x="47.97" y="350.60" font-size="15" fill="#131722" textLength="26.56" lengthAdjust="spacingAndGlyphs">(14)</text>
<text x="83.35" y="350.60" font-size="15" fill="#7E57C2" textLength="35.96" lengthAdjust="spacingAndGlyphs">35.31</text>
<text x="22.19" y="507.50" font-size="15" fill="#131722" textLength="38.03" lengthAdjust="spacingAndGlyphs">MACD</text>
<text x="65.46" y="507.50" font-size="15" fill="#131722" textLength="26.11" lengthAdjust="spacingAndGlyphs">(12,</text>
<text x="96.05" y="507.50" font-size="15" fill="#131722" textLength="20.80" lengthAdjust="spacingAndGlyphs">26,</text>
<text x="121.42" y="507.50" font-size="15" fill="#131722" textLength="42.45" lengthAdjust="spacingAndGlyphs">close,</text>
<text x="166.36" y="507.50" font-size="15" fill="#131722" textLength="13.91" lengthAdjust="spacingAndGlyphs">9)</text>
<text x="188.87" y="507.50" font-size="15" fill="#FF5252" textLength="37.55" lengthAdjust="spacingAndGlyphs"><tspan dy="1.6">−</tspan><tspan dy="-1.6">0.15</tspan></text>
<text x="234.88" y="507.50" font-size="15" fill="#2196F3" textLength="36.96" lengthAdjust="spacingAndGlyphs"><tspan dy="1.6">−</tspan><tspan dy="-1.6">0.36</tspan></text>
<text x="280.80" y="507.50" font-size="15" fill="#FF6D00" textLength="36.10" lengthAdjust="spacingAndGlyphs"><tspan dy="1.6">−</tspan><tspan dy="-1.6">0.21</tspan></text>
<text x="1582.84" y="53.80" font-size="15" fill="#131722" textLength="45.67" lengthAdjust="spacingAndGlyphs" clip-path="url(#ax1)">110.00</text>
<text x="1582.87" y="104.80" font-size="15" fill="#131722" textLength="45.62" lengthAdjust="spacingAndGlyphs" clip-path="url(#ax1)">108.00</text>
<text x="1582.87" y="155.80" font-size="15" fill="#131722" textLength="45.62" lengthAdjust="spacingAndGlyphs" clip-path="url(#ax1)">106.00</text>
<text x="1582.87" y="206.80" font-size="15" fill="#131722" textLength="45.62" lengthAdjust="spacingAndGlyphs" clip-path="url(#ax1)">104.00</text>
<text x="1582.87" y="257.80" font-size="15" fill="#131722" textLength="45.62" lengthAdjust="spacingAndGlyphs" clip-path="url(#ax1)">102.00</text>
<text x="1582.87" y="307.80" font-size="15" fill="#131722" textLength="45.62" lengthAdjust="spacingAndGlyphs" clip-path="url(#ax1)">100.00</text>
<text x="1582.55" y="333.80" font-size="15" fill="#131722" textLength="38.05" lengthAdjust="spacingAndGlyphs" clip-path="url(#ax2)">80.00</text>
<text x="1582.42" y="383.80" font-size="15" fill="#131722" textLength="38.18" lengthAdjust="spacingAndGlyphs" clip-path="url(#ax2)">60.00</text>
<text x="1582.85" y="434.80" font-size="15" fill="#131722" textLength="37.74" lengthAdjust="spacingAndGlyphs" clip-path="url(#ax2)">40.00</text>
<text x="1582.44" y="485.00" font-size="15" fill="#131722" textLength="38.16" lengthAdjust="spacingAndGlyphs" clip-path="url(#ax2)">20.00</text>
<text x="1582.21" y="503.80" font-size="15" fill="#131722" textLength="30.40" lengthAdjust="spacingAndGlyphs" clip-path="url(#ax3)">1.00</text>
<text x="1582.80" y="571.00" font-size="15" fill="#131722" textLength="29.80" lengthAdjust="spacingAndGlyphs" clip-path="url(#ax3)">0.00</text>
<text x="1582.57" y="637.80" font-size="15" fill="#131722" textLength="37.51" lengthAdjust="spacingAndGlyphs" clip-path="url(#ax3)"><tspan dy="1.6">−</tspan><tspan dy="-1.6">1.00</tspan></text>
<path d="M1573 89H1632.3Q1634.3 89 1634.3 91V107.7Q1634.3 109.7 1632.3 109.7H1573Z" fill="#FF6D00"/>
<text x="1583.07" y="104.90" font-size="15" fill="#fff" textLength="45.48" lengthAdjust="spacingAndGlyphs" stroke="#fff" stroke-width="0.15">107.62</text>
<path d="M1573 110H1632.3Q1634.3 110 1634.3 112V128.7Q1634.3 130.7 1632.3 130.7H1573Z" fill="#2196F3"/>
<text x="1583.07" y="125.90" font-size="15" fill="#fff" textLength="45.36" lengthAdjust="spacingAndGlyphs" stroke="#fff" stroke-width="0.15">106.55</text>
<path d="M1573 131H1632.3Q1634.3 131 1634.3 133V149.5Q1634.3 151.5 1632.3 151.5H1573Z" fill="#F23645"/>
<text x="1583.07" y="146.90" font-size="15" fill="#fff" textLength="45.36" lengthAdjust="spacingAndGlyphs" stroke="#fff" stroke-width="0.15">106.35</text>
<path d="M1573 167.2H1632.3Q1634.3 167.2 1634.3 169.2V185.8Q1634.3 187.8 1632.3 187.8H1573Z" fill="#26C6DA"/>
<text x="1583.07" y="183.10" font-size="15" fill="#000" textLength="45.48" lengthAdjust="spacingAndGlyphs" stroke="#000" stroke-width="0.15">104.97</text>
<path d="M1573 431.2H1624.8Q1626.8 431.2 1626.8 433.2V449.7Q1626.8 451.7 1624.8 451.7H1573Z" fill="#7E57C2"/>
<text x="1582.24" y="447.10" font-size="15" fill="#fff" textLength="36.89" lengthAdjust="spacingAndGlyphs" stroke="#fff" stroke-width="0.15">35.31</text>
<path d="M1573 565H1625.3Q1627.3 565 1627.3 567V583.7Q1627.3 585.7 1625.3 585.7H1573Z" fill="#FF5252"/>
<text x="1582.57" y="580.90" font-size="15" fill="#fff" textLength="37.66" lengthAdjust="spacingAndGlyphs" stroke="#fff" stroke-width="0.15"><tspan dy="1.6">−</tspan><tspan dy="-1.6">0.15</tspan></text>
<path d="M1573 586H1625.3Q1627.3 586 1627.3 588V604.6Q1627.3 606.6 1625.3 606.6H1573Z" fill="#FF6D00"/>
<text x="1582.57" y="601.90" font-size="15" fill="#fff" textLength="37.77" lengthAdjust="spacingAndGlyphs" stroke="#fff" stroke-width="0.15"><tspan dy="1.6">−</tspan><tspan dy="-1.6">0.21</tspan></text>
<path d="M1573 608H1625.3Q1627.3 608 1627.3 610V626.5Q1627.3 628.5 1625.3 628.5H1573Z" fill="#2196F3"/>
<text x="1582.57" y="623.90" font-size="15" fill="#fff" textLength="37.69" lengthAdjust="spacingAndGlyphs" stroke="#fff" stroke-width="0.15"><tspan dy="1.6">−</tspan><tspan dy="-1.6">0.36</tspan></text>
<text x="153.97" y="661.80" font-size="15" fill="#131722" textLength="26.07" lengthAdjust="spacingAndGlyphs">Aug</text>
<text x="352.94" y="661.80" font-size="15" fill="#131722" textLength="25.46" lengthAdjust="spacingAndGlyphs">Sep</text>
<text x="543.07" y="661.80" font-size="15" fill="#131722" textLength="24.13" lengthAdjust="spacingAndGlyphs">Oct</text>
<text x="750.06" y="661.80" font-size="15" fill="#131722" textLength="26.80" lengthAdjust="spacingAndGlyphs">Nov</text>
<text x="940.22" y="661.80" font-size="15" fill="#131722" textLength="25.66" lengthAdjust="spacingAndGlyphs">Dec</text>
<text x="1347.59" y="661.80" font-size="15" fill="#131722" textLength="25.43" lengthAdjust="spacingAndGlyphs">Feb</text>
<text x="1546.06" y="661.80" font-size="15" fill="#131722" textLength="26.00" lengthAdjust="spacingAndGlyphs">Mar</text>
<text x="1134.74" y="661.80" font-size="15" fill="#131722" font-weight="bold" textLength="35.41" lengthAdjust="spacingAndGlyphs">2025</text>
<path d="M13.1 689.9H22.8V701.7H17.85V694.4H13.1Z M32.1 689.9H37.2L32.7 701.7H27.05Z" fill="#131722"/><circle cx="26.9" cy="692.4" r="2.65" fill="#131722"/>
<text x="41.65" y="701.50" font-size="15.4" fill="#131722" textLength="87.82" lengthAdjust="spacingAndGlyphs" stroke="#131722" stroke-width="0.12">TradingView</text>
</g>
</svg>
</body></html>
